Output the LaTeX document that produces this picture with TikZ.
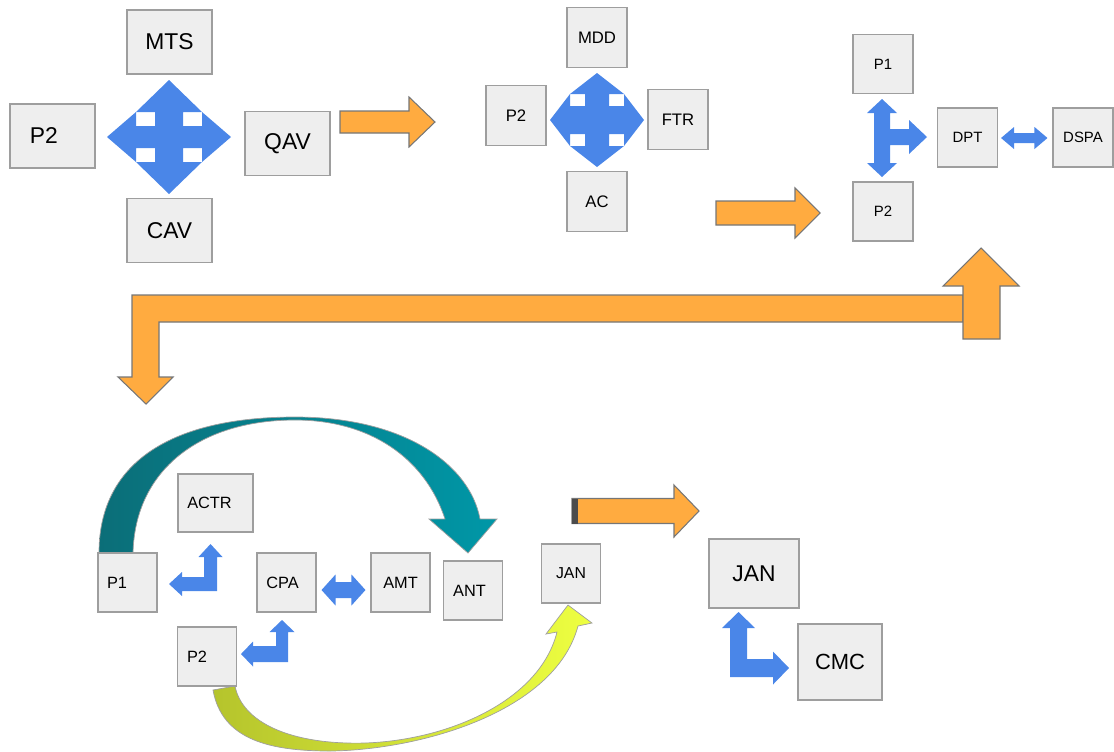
\documentclass[tikz,border=0pt]{standalone}
\usepackage{fontspec}
\setmainfont{Liberation Sans}
\usepackage{tikz}
\usetikzlibrary{positioning,calc}

\definecolor{boxfill}{HTML}{EEEEEE}
\definecolor{boxline}{HTML}{9E9E9E}
\definecolor{flowblue}{HTML}{4A86E8}
\definecolor{floworange}{HTML}{FFAB40}
\definecolor{flowedge}{HTML}{767676}
\definecolor{tealdark}{HTML}{0B6E78}
\definecolor{teallight}{HTML}{0097A7}
\definecolor{olivegreen}{HTML}{B5C42C}
\definecolor{limeyellow}{HTML}{EEFF41}

\tikzset{%
  every box/.style={
    draw=boxline,
    fill=boxfill,
    line width=0.6pt,
    inner sep=0pt
  },
  big box/.style={every box, minimum width=1.7cm, minimum height=1.28cm, font=\fontsize{13}{15}\selectfont},
  mid box/.style={every box, minimum width=1.2cm, minimum height=1.2cm, font=\fontsize{9.5}{11}\selectfont},
  small box/.style={every box, minimum width=1.2cm, minimum height=1.18cm, font=\fontsize{8.5}{10}\selectfont},
  low box/.style={every box, minimum width=1.18cm, minimum height=1.18cm, font=\fontsize{9.3}{11}\selectfont},
  text left/.style={execute at end node=\hspace*{#1}},
  blue shape/.style={fill=flowblue},
  orange shape/.style={fill=floworange, draw=flowedge, line width=0.6pt},
}

% centre x, centre y, reach x, reach y, head x, head y, shaft x, shaft y
\newcommand{\quadarrow}[8]{%
  \fill[blue shape] (#1,{#2-#4}) -- ({#1-#3+#5},{#2-#4+#6}) -- ({#1-#7},{#2-#4+#6}) -- ({#1-#7},{#2-#8})
    -- ({#1-#3+#5},{#2-#8}) -- ({#1-#3+#5},{#2-#4+#6}) -- ({#1-#3},#2) -- ({#1-#3+#5},{#2+#4-#6})
    -- ({#1-#3+#5},{#2+#8}) -- ({#1-#7},{#2+#8}) -- ({#1-#7},{#2+#4-#6}) -- ({#1-#3+#5},{#2+#4-#6})
    -- (#1,{#2+#4}) -- ({#1+#3-#5},{#2+#4-#6}) -- ({#1+#7},{#2+#4-#6}) -- ({#1+#7},{#2+#8})
    -- ({#1+#3-#5},{#2+#8}) -- ({#1+#3-#5},{#2+#4-#6}) -- ({#1+#3},#2) -- ({#1+#3-#5},{#2-#4+#6})
    -- ({#1+#3-#5},{#2-#8}) -- ({#1+#7},{#2-#8}) -- ({#1+#7},{#2-#4+#6}) -- ({#1+#3-#5},{#2-#4+#6}) -- cycle;}
% corner x, corner y, upright width, flat width, tip x, top tip y, head length, head half width
\newcommand{\bentleftup}[8]{%
  \fill[blue shape] (#5,{#2-#4/2}) -- ({#5+#7},{#2-#4/2-#8}) -- ({#5+#7},{#2-#4}) -- ({#1-#3},{#2-#4})
    -- ({#1-#3},{#6+#7}) -- ({#1-#3/2-#8},{#6+#7}) -- ({#1-#3/2},#6) -- ({#1-#3/2+#8},{#6+#7})
    -- (#1,{#6+#7}) -- (#1,#2) -- ({#5+#7},#2) -- ({#5+#7},{#2-#4/2+#8}) -- cycle;}
\newcommand{\bentupright}[8]{%
  \fill[blue shape] (#1,#2) -- (#1,{#6+#7}) -- ({#1+#3/2-#8},{#6+#7}) -- ({#1+#3/2},#6) -- ({#1+#3/2+#8},{#6+#7})
    -- ({#1+#3},{#6+#7}) -- ({#1+#3},{#2-#4}) -- ({#5-#7},{#2-#4}) -- ({#5-#7},{#2-#4/2-#8})
    -- (#5,{#2-#4/2}) -- ({#5-#7},{#2-#4/2+#8}) -- ({#5-#7},#2) -- cycle;}
% left end, right end, head length, head half width, shaft half width
\newcommand{\twoway}[5]{%
  \fill[blue shape] (#1) -- ++(#3,-#4) -- ++(0,{#4-#5}) -- ($(#2)+(-#3,-#5)$) -- ++(0,{#5-#4}) -- (#2)
    -- ++(-#3,#4) -- ++(0,{#5-#4}) -- ($(#1)+(#3,#5)$) -- ++(0,{#4-#5}) -- cycle;}
% tail x, tip x, y, head length, head half width, shaft half width
\newcommand{\rightblock}[6]{%
  \draw[orange shape] (#1,{#3-#6}) -- ({#2-#4},{#3-#6}) -- ({#2-#4},{#3-#5}) -- (#2,#3)
    -- ({#2-#4},{#3+#5}) -- ({#2-#4},{#3+#6}) -- (#1,{#3+#6}) -- cycle;}

\begin{document}
\begin{tikzpicture}[x=0.02cm, y=-0.02cm]
\useasboundingbox (0,0) rectangle (1114,751);

% first group
\node[big box] (mts) at (169.5,42) {MTS};
\node[big box, text left=0.35cm] (p2a) at (52.5,136) {P2};
\node[big box] (qav) at (287.5,143.5) {QAV};
\node[big box] (cav) at (169.5,230.5) {CAV};
\quadarrow{169}{137}{62}{57}{29}{32}{14}{11}

% second group
\node[mid box] (mdd) at (597,37.5) {MDD};
\node[mid box] (p2b) at (516,115.5) {P2};
\node[mid box] (ftr) at (678,119.5) {FTR};
\node[mid box] (ac) at (597,201.5) {AC};
\quadarrow{597}{120}{47}{47}{20}{21}{12}{14}

% third group
\node[small box] (p1c) at (883,64) {P1};
\node[small box] (p2c) at (883,211.5) {P2};
\node[small box] (dpt) at (967.5,137.5) {DPT};
\node[small box] (dspa) at (1083,137.5) {DSPA};
\fill[blue shape] (882,99) -- (897,113) -- (890,113) -- (890,129) -- (909,129) -- (909,120) -- (927,137)
  -- (909,154) -- (909,145) -- (890,145) -- (890,163) -- (897,163) -- (882,177) -- (867,163)
  -- (874,163) -- (874,113) -- (867,113) -- cycle;
\coordinate (dpt end) at ($(dpt.east)+(3,0.5)$);
\coordinate (dspa end) at ($(dspa.west)+(-5,0.5)$);
\twoway{dpt end}{dspa end}{13}{11}{5}

% flow between groups
\rightblock{340}{435}{122}{26}{25}{11}
\rightblock{716}{820}{213}{25}{25}{12}
\draw[orange shape] (963,295) -- (132,295) -- (132,377) -- (118,377) -- (146,404) -- (173,377)
  -- (159,377) -- (159,322) -- (963,322) -- cycle;
\draw[orange shape] (963,339) -- (963,286) -- (943,286) -- (981,248) -- (1019,286) -- (1000,286)
  -- (1000,339) -- cycle;

% curved arrows
\draw[left color=tealdark, right color=teallight, draw=flowedge!70, line width=0.4pt]
  (99,553) .. controls (99,460) and (175,417) .. (295,417) .. controls (405,417) and (470,465) .. (480,519)
  -- (497,519) -- (468,553) -- (429,519) -- (445,519)
  .. controls (425,458) and (370,420) .. (295,420) .. controls (200,420) and (135,470) .. (133,553) -- cycle;
\draw[left color=olivegreen, right color=limeyellow, draw=flowedge!70, line width=0.4pt]
  (213,690) .. controls (222,740) and (270,751) .. (330,751) .. controls (420,750) and (555,712) .. (578,626)
  -- (592,623) -- (568,605) -- (546,634) -- (557,632)
  .. controls (540,700) and (450,740) .. (365,743) .. controls (290,745) and (242,722) .. (235,686) -- cycle;

% last group
\node[low box, text left=0.42cm] (p1d) at (127.5,582.5) {P1};
\node[low box, text left=0.24cm, minimum width=1.5cm, minimum height=1.16cm] (actr) at (215.5,503) {ACTR};
\node[low box, text left=0.16cm] (cpa) at (286.5,582.5) {CPA};
\node[low box] (amt) at (400.5,582.5) {AMT};
\node[low box, text left=0.14cm] (ant) at (473,590.5) {ANT};
\node[low box, text left=0.4cm] (p2d) at (207,656.5) {P2};
\node[low box, font=\fontsize{9}{11}\selectfont] (jana) at (571,573.5) {JAN};
\node[every box, minimum width=1.8cm, minimum height=1.38cm, font=\fontsize{13}{15}\selectfont] (janb) at (754,573.5) {JAN};
\node[every box, minimum width=1.68cm, minimum height=1.52cm, font=\fontsize{12.5}{15}\selectfont] (cmc) at (840,662) {CMC};
\bentleftup{217}{591}{13}{14}{169}{544}{13}{12}
\bentleftup{288}{662}{12}{16}{241}{620}{12}{12.5}
\bentupright{730}{677}{17}{18}{789}{612}{16}{16.5}
\coordinate (cpa end) at ($(cpa.east)+(5,7.5)$);
\coordinate (amt end) at ($(amt.west)+(-5,7.5)$);
\twoway{cpa end}{amt end}{14}{15.5}{8}
\rightblock{572}{699}{511}{25}{26}{12.5}
\fill[gray!60!black] (572,498.5) rectangle (578,523.5);

\end{tikzpicture}
\end{document}
